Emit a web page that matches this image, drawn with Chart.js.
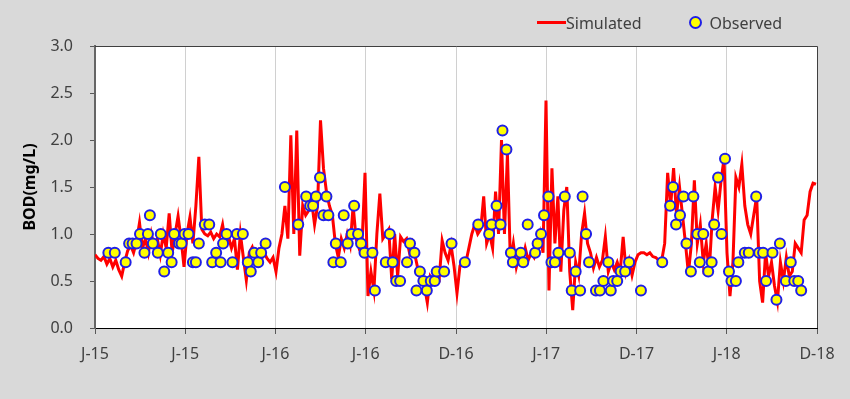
<!DOCTYPE html>
<html>
<head>
<meta charset="utf-8">
<script src="https://cdn.jsdelivr.net/npm/chart.js@4.4.1/dist/chart.umd.min.js"></script>
<style>
  html, body { margin: 0; padding: 0; background: #d9d9d9; }
  #wrap { position: relative; width: 850px; height: 399px; }
  #legend { position: absolute; top: 10px; left: 537px; font: 16px 'Noto Sans', sans-serif; color: #404040; white-space: nowrap; }
  #legend span { display: inline-block; vertical-align: middle; }
  .lineKey { width: 29px; height: 3px; background: #ff0000; }
  .dotKey { width: 9px; height: 9px; border: 2px solid #1f1fe6; border-radius: 50%; background: #ffff00; margin-left: 47px; margin-right: 8px; }
</style>
</head>
<body>
<div id="wrap">
  <canvas id="chart" width="850" height="399"></canvas>
  <div id="legend"><span class="lineKey"></span><span>Simulated</span><span class="dotKey"></span><span>Observed</span></div>
</div>
<script>
/* ---- data ---- */
const xTickLabels = ['J-15', 'J-15', 'J-16', 'J-16', 'D-16', 'J-17', 'D-17', 'J-18', 'D-18'];
const yTickStep = 0.5;

// simulated BOD, one reading every 6 days from day 0
const simStepDays = 6;
const simValues = [
  0.78, 0.74, 0.72, 0.76, 0.68, 0.74, 0.65, 0.72, 0.62, 0.55,
  0.70, 0.82, 0.88, 0.80, 0.92, 1.12, 0.85, 0.95, 0.80, 1.00,
  0.85, 0.95, 0.78, 1.00, 0.85, 1.22, 0.80, 1.00, 1.19, 0.95,
  0.65, 1.00, 1.18, 0.90, 1.30, 1.82, 1.05, 1.00, 0.98, 1.02,
  0.95, 1.00, 0.97, 1.10, 0.90, 0.97, 0.85, 0.95, 0.62, 1.00,
  0.75, 0.51, 0.80, 0.86, 0.75, 0.82, 0.72, 0.80, 0.74, 0.70,
  0.75, 0.60, 0.85, 1.00, 1.30, 0.95, 2.05, 1.00, 2.10, 0.77,
  1.30, 1.20, 1.25, 1.35, 1.10, 1.30, 2.21, 1.70, 1.45, 1.30,
  1.20, 0.90, 0.75, 0.95, 0.85, 1.00, 0.88, 1.30, 0.95, 0.85,
  0.90, 1.65, 0.34, 0.60, 0.40, 1.00, 1.43, 0.95, 1.00, 1.05,
  0.52, 1.00, 0.55, 0.97, 0.92, 0.95, 0.80, 0.90, 0.75, 0.60,
  0.50, 0.45, 0.27, 0.55, 0.50, 0.55, 0.52, 0.93, 0.80, 0.72,
  0.88, 0.66, 0.37, 0.66, 0.72, 0.70, 0.85, 1.00, 1.10, 1.00,
  1.05, 1.40, 0.90, 1.00, 0.85, 1.45, 1.00, 2.00, 1.00, 1.85,
  0.70, 0.90, 0.65, 0.78, 0.70, 0.85, 0.72, 0.80, 0.75, 0.85,
  1.00, 0.80, 2.42, 0.40, 1.70, 0.90, 1.40, 0.60, 1.25, 1.50,
  0.60, 0.19, 0.70, 0.56, 1.00, 1.22, 0.90, 0.80, 0.64, 0.75,
  0.65, 0.72, 0.97, 0.60, 0.70, 0.62, 0.70, 0.60, 0.97, 0.60,
  0.72, 0.56, 0.70, 0.78, 0.80, 0.80, 0.78, 0.80, 0.76, 0.75,
  0.72, 0.72, 0.90, 1.65, 1.30, 1.70, 1.20, 1.50, 1.20, 0.90,
  0.58, 0.90, 1.57, 0.90, 1.10, 0.70, 0.90, 0.60, 1.15, 1.50,
  1.25, 1.57, 1.80, 0.80, 0.34, 0.70, 1.60, 1.50, 1.74, 1.30,
  1.10, 1.00, 1.20, 1.40, 0.50, 0.27, 0.80, 0.55, 0.70, 0.45,
  0.28, 0.70, 0.50, 0.75, 0.55, 0.60, 0.90, 0.85, 0.80, 1.15,
  1.20, 1.45, 1.54, 1.53
];

// observed BOD samples (day since start, mg/L)
const obsDays = [
  27, 40, 62, 69, 76, 84, 91, 100, 107, 111, 117, 127, 133, 140, 148, 155, 160, 170, 175, 181,
  189, 198, 204, 210, 222, 231, 237, 245, 254, 259, 266, 278, 287, 299, 309, 315, 322, 330, 336, 345,
  384, 411, 427, 435, 441, 447, 455, 462, 468, 472, 482, 487, 497, 503, 511, 519, 524, 532, 538, 545,
  561, 566, 588, 596, 602, 609, 617, 631, 637, 646, 650, 657, 664, 671, 679, 687, 691, 706, 721, 748,
  775, 797, 802, 812, 820, 824, 832, 841, 845, 861, 866, 875, 890, 895, 902, 908, 917, 923, 930, 937,
  950, 960, 964, 972, 981, 986, 993, 999, 1013, 1021, 1028, 1038, 1043, 1048, 1056, 1063, 1072, 1080, 1104, 1147,
  1163, 1169, 1175, 1183, 1190, 1196, 1205, 1210, 1218, 1223, 1230, 1240, 1247, 1252, 1260, 1267, 1274, 1282, 1287, 1296,
  1301, 1314, 1322, 1337, 1343, 1351, 1357, 1370, 1378, 1385, 1397, 1407, 1414, 1422, 1428
];
const obsValues = [
  0.8, 0.8, 0.7, 0.9, 0.9, 0.9, 1.0, 0.8, 1.0, 1.2, 0.9, 0.8, 1.0, 0.6, 0.8, 0.7, 1.0, 0.9, 0.9, 1.0,
  1.0, 0.7, 0.7, 0.9, 1.1, 1.1, 0.7, 0.8, 0.7, 0.9, 1.0, 0.7, 1.0, 1.0, 0.7, 0.6, 0.8, 0.7, 0.8, 0.9,
  1.5, 1.1, 1.4, 1.3, 1.3, 1.4, 1.6, 1.2, 1.4, 1.2, 0.7, 0.9, 0.7, 1.2, 0.9, 1.0, 1.3, 1.0, 0.9, 0.8,
  0.8, 0.4, 0.7, 1.0, 0.7, 0.5, 0.5, 0.7, 0.9, 0.8, 0.4, 0.6, 0.5, 0.4, 0.5, 0.5, 0.6, 0.6, 0.9, 0.7,
  1.1, 1.0, 1.1, 1.3, 1.1, 2.1, 1.9, 0.8, 0.7, 0.8, 0.7, 1.1, 0.8, 0.9, 1.0, 1.2, 1.4, 0.7, 0.7, 0.8,
  1.4, 0.8, 0.4, 0.6, 0.4, 1.4, 1.0, 0.7, 0.4, 0.4, 0.5, 0.7, 0.4, 0.5, 0.5, 0.6, 0.6, 0.7, 0.4, 0.7,
  1.3, 1.5, 1.1, 1.2, 1.4, 0.9, 0.6, 1.4, 1.0, 0.7, 1.0, 0.6, 0.7, 1.1, 1.6, 1.0, 1.8, 0.6, 0.5, 0.5,
  0.7, 0.8, 0.8, 1.4, 0.8, 0.8, 0.5, 0.8, 0.3, 0.9, 0.5, 0.7, 0.5, 0.5, 0.4
];

const xTickStep = 182.5;
const FONT = "'Noto Sans', sans-serif";

/* Plugin: white plot area + frame */
const plotFrame = {
  id: 'plotFrame',
  beforeDraw(chart) {
    const { ctx, chartArea: a } = chart;
    ctx.save();
    ctx.fillStyle = '#ffffff';
    ctx.fillRect(a.left, a.top, a.right - a.left, a.bottom - a.top);
    ctx.restore();
  },
  afterDatasetsDraw(chart) {
    const { ctx, chartArea: a } = chart;
    ctx.save();
    ctx.strokeStyle = '#404040';
    ctx.lineWidth = 1;
    ctx.beginPath();
    ctx.moveTo(a.left, a.top + 0.5);
    ctx.lineTo(a.right + 0.5, a.top + 0.5);
    ctx.lineTo(a.right + 0.5, a.bottom);
    ctx.stroke();
    ctx.restore();
  }
};

new Chart(document.getElementById('chart'), {
  type: 'line',
  data: {
    datasets: [{
      label: 'Observed',
      type: 'scatter',
      data: obsDays.map((d, i) => ({ x: d, y: obsValues[i] })),
      backgroundColor: '#ffff00',
      borderColor: '#1f1fe6',
      borderWidth: 2,
      pointRadius: 5,
      order: 0
    }, {
      label: 'Simulated',
      data: simValues.map((v, i) => ({ x: i * simStepDays, y: v })),
      borderColor: '#ff0000',
      borderWidth: 3,
      pointRadius: 0,
      tension: 0,
      fill: false,
      order: 1
    }]
  },
  options: {
    responsive: false,
    animation: false,
    layout: { padding: { left: 0, top: 46, right: 33, bottom: 0 } },
    plugins: { legend: { display: false }, tooltip: { enabled: false } },
    scales: {
      x: {
        type: 'linear',
        min: 0,
        max: xTickStep * (xTickLabels.length - 1),
        afterFit: s => { s.height = 71; },
        afterBuildTicks: s => { s.ticks = xTickLabels.map((_, i) => ({ value: i * xTickStep })); },
        ticks: {
          autoSkip: false,
          maxRotation: 0,
          padding: 11,
          color: '#404040',
          font: { family: FONT, size: 16 },
          callback: (v, i) => xTickLabels[i]
        },
        grid: { color: '#d0d0d0', tickColor: '#595959', tickLength: 6 },
        border: { color: '#000000', width: 1 }
      },
      y: {
        min: 0,
        max: 3,
        afterFit: s => { s.width = 95; },
        ticks: {
          stepSize: yTickStep,
          padding: 17,
          color: '#404040',
          font: { family: FONT, size: 16 },
          callback: v => v.toFixed(1)
        },
        grid: { drawOnChartArea: false, tickColor: '#595959', tickLength: 5 },
        border: { color: '#666666', width: 2 },
        title: {
          display: true,
          text: 'BOD(mg/L)',
          color: '#000000',
          font: { family: FONT, size: 16, weight: 'bold' },
          padding: { top: 21, bottom: 0 }
        }
      }
    }
  },
  plugins: [plotFrame]
});
</script>
</body>
</html>
